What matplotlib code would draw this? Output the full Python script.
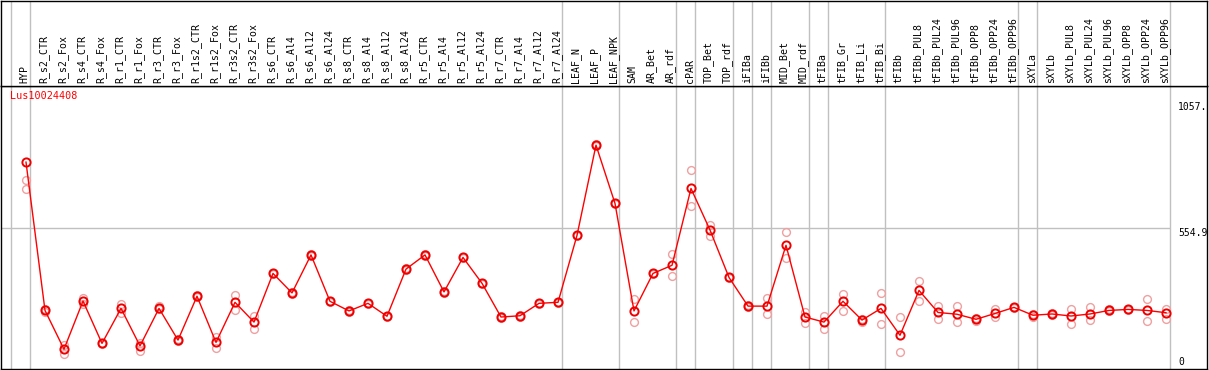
import matplotlib
matplotlib.use("Agg")
import matplotlib.pyplot as plt
import numpy as np

samples = ["HYP", "R_s2_CTR", "R_s2_Fox", "R_s4_CTR", "R_s4_Fox", "R_r1_CTR", "R_r1_Fox",
           "R_r3_CTR", "R_r3_Fox", "R_r1s2_CTR", "R_r1s2_Fox", "R_r3s2_CTR", "R_r3s2_Fox",
           "R_s6_CTR", "R_s6_Al4", "R_s6_Al12", "R_s6_Al24", "R_s8_CTR", "R_s8_Al4",
           "R_s8_Al12", "R_s8_Al24", "R_r5_CTR", "R_r5_Al4", "R_r5_Al12", "R_r5_Al24",
           "R_r7_CTR", "R_r7_Al4", "R_r7_Al12", "R_r7_Al24", "LEAF_N", "LEAF_P", "LEAF_NPK",
           "SAM", "AR_Bet", "AR_rdf", "cPAR", "TOP_Bet", "TOP_rdf", "iFIBa", "iFIBb",
           "MID_Bet", "MID_rdf", "tFIBa", "tFIB_Gr", "tFIB_Li", "tFIB_Bi", "tFIBb",
           "tFIBb_PUL8", "tFIBb_PUL24", "tFIBb_PUL96", "tFIBb_OPP8", "tFIBb_OPP24",
           "tFIBb_OPP96", "sXYLa", "sXYLb", "sXYLb_PUL8", "sXYLb_PUL24", "sXYLb_PUL96",
           "sXYLb_OPP8", "sXYLb_OPP24", "sXYLb_OPP96"]

mean_values = [816, 231, 78, 268, 101, 239, 91, 239, 114, 287, 105, 263, 185, 377, 300, 450,
               267, 229, 259, 208, 394, 450, 304, 440, 338, 205, 210, 259, 263, 527, 883, 653,
               229, 377, 409, 712, 548, 361, 248, 248, 488, 205, 185, 267, 193, 239, 133, 310,
               223, 216, 196, 219, 243, 212, 217, 209, 217, 231, 235, 231, 222]

rep_high = [744, 236, 95, 281, 104, 258, 101, 248, 117, 290, 127, 292, 210, 380, 303, 453,
            270, 232, 262, 211, 397, 453, 307, 443, 341, 208, 213, 262, 266, 530, 886, 656,
            276, 380, 452, 783, 568, 364, 251, 279, 540, 223, 209, 296, 199, 298, 204, 346,
            248, 248, 203, 237, 246, 218, 220, 237, 245, 235, 238, 275, 238]

rep_low = [709, 226, 58, 256, 98, 222, 72, 236, 111, 284, 83, 234, 159, 374, 297, 447,
           264, 226, 256, 205, 391, 447, 301, 437, 335, 202, 207, 256, 260, 524, 880, 650,
           185, 374, 365, 641, 526, 358, 245, 216, 436, 180, 159, 230, 187, 176, 66, 269,
           198, 187, 189, 206, 240, 206, 214, 176, 192, 227, 232, 189, 198]

group_ends = [-1, 0, 28, 31, 34, 35, 37, 38, 39, 41, 42, 45, 52, 53, 60]
gene_name = "Lus10024408"
y_ticks = [1057, 554.9, 0]
y_tick_labels = ["1057.", "554.9", "0"]

W, H = 1209, 370
fig = plt.figure(figsize=(W / 100, H / 100), dpi=100)

x_left_px, x_right_px = 1, 1207
top_px, sep_px, bot_px = 0.5, 86, 369
x0_px, dx_px = 26, 19
xlim = ((x_left_px - x0_px) / dx_px, (x_right_px - x0_px) / dx_px)

ax = fig.add_axes([x_left_px / W, 1 - bot_px / H, (x_right_px - x_left_px) / W, (bot_px - sep_px) / H])
hax = fig.add_axes([x_left_px / W, 1 - sep_px / H, (x_right_px - x_left_px) / W, (sep_px - top_px) / H])

ymax = 1057 * (bot_px - sep_px) / (bot_px - 101)
ax.set_xlim(*xlim)
ax.set_ylim(0, ymax)
hax.set_xlim(*xlim)
hax.set_ylim(0, 1)

grey = "#c0c0c0"
for a in (ax, hax):
    a.set_xticks([])
    a.set_yticks([])
    for s in a.spines.values():
        s.set_color("black")
        s.set_linewidth(1.0)
    for g in group_ends:
        a.axvline(g + 0.22, color=grey, lw=1.0, zorder=0)

# horizontal gridline at the middle value
ax.plot([xlim[0], group_ends[-1] + 0.22], [y_ticks[1], y_ticks[1]], color=grey, lw=1.0, zorder=0,
        solid_capstyle="butt")

x = np.arange(len(samples))
ax.plot(x, rep_high, linestyle="none", marker="o", ms=5.6, mfc="none", mec="#f0a0a0", mew=1.0, zorder=2)
ax.plot(x, rep_low, linestyle="none", marker="o", ms=5.6, mfc="none", mec="#f0a0a0", mew=1.0, zorder=2)
ax.plot(x, mean_values, color="red", lw=1.0, zorder=3)
ax.plot(x, mean_values, linestyle="none", marker="o", ms=5.9, mfc="none", mec="#ee0000", mew=1.4, zorder=4)

mono = "DejaVu Sans Mono"
for i, lab in enumerate(samples):
    hax.text(i - 0.07, (sep_px - 83) / (sep_px - top_px), lab, rotation=90, ha="center", va="bottom",
             fontsize=7.1, family=mono, color="black")

fig.text(10 / W, 1 - 96 / H, gene_name, color="red", fontsize=7.3, family=mono, ha="left", va="center")

label_y_px = [107, 232.5, 362]
for lab, ypx in zip(y_tick_labels, label_y_px):
    fig.text(1178 / W, 1 - ypx / H, lab, fontsize=7, family=mono, ha="left", va="center", color="black")

fig.savefig("out.png", dpi=100)
